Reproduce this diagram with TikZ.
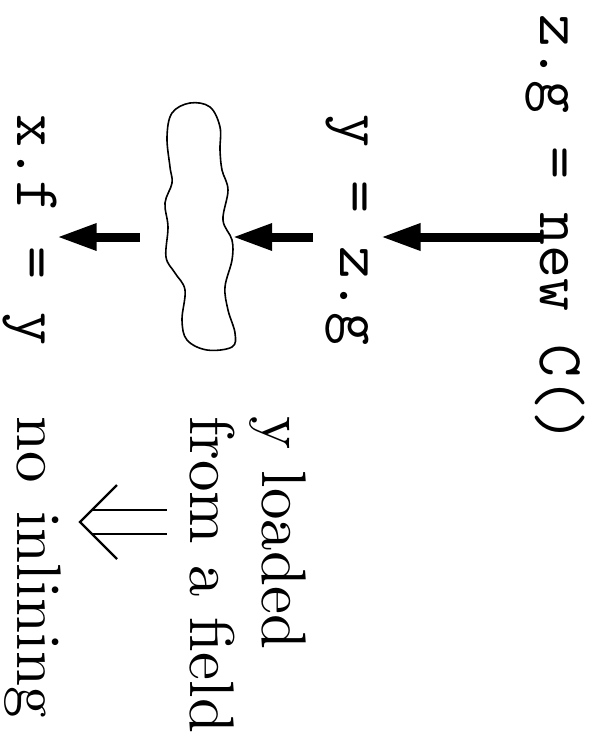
\documentclass[tikz,border=0pt]{standalone}
\usetikzlibrary{arrows.meta}

\tikzset{
  code/.style={rotate=-90, inner sep=0pt, anchor=base, font=\fontsize{64}{70}\selectfont\ttfamily},
  note/.style={rotate=-90, scale=6.3, inner sep=0pt, anchor=base west},
  fat/.style={line width=9pt, -{Triangle[length=40pt,width=25pt]}},
}

\begin{document}
\begin{tikzpicture}[x=1pt, y=-1pt]
  \useasboundingbox (0,0) rectangle (594,740);

  \node[code] (zg) at (540,229) {z.g = new C()};
  \node[code] (yz) at (340,230) {y = z.g};
  \node[code] (xf) at (17,230) {x.f = y};

  \node[note] (yl) at (262,415) {y loaded};
  \node[note] (fa) at (190,415) {from a field};
  \node[note] (ni) at (17,415) {no\hspace{4.5pt}inlining};

  % the double arrow between the two remarks
  \coordinate (dn) at (80,522);
  \draw[line width=2.2pt] (dn) ++(37,-37) -- (dn) -- ++(37,37);
  \draw[line width=2.2pt] (dn) ++(12,-12) -- ++(75,0);
  \draw[line width=2.2pt] (dn) ++(12,12) -- ++(75,0);

  % whatever happens between the load and the store
  \draw[line width=1.6pt] plot[smooth cycle, tension=0.6] coordinates {
    (190,103) (172,113) (167,137) (170,167) (172,183) (165,203) (168,227)
    (166,257) (175,273) (185,290) (182,320) (187,340) (207,350) (232,347)
    (235,333) (228,310) (225,287) (232,260) (232,240) (223,220) (228,190)
    (222,170) (220,150) (220,127) (210,107)};
  \node[minimum width=72pt, minimum height=252pt, inner sep=0pt] (cloud) at (201,226) {};

  \coordinate (ay) at (0,237);
  \draw[fat, shorten >=12pt] (zg.base |- ay) -- (yz.north |- ay);
  \draw[fat, shorten <=12pt, shorten >=-5pt] (yz.south |- ay) -- (cloud.east |- ay);
  \draw[fat, shorten <=25pt] (cloud.west |- ay) -- (xf.north |- ay);
\end{tikzpicture}
\end{document}
